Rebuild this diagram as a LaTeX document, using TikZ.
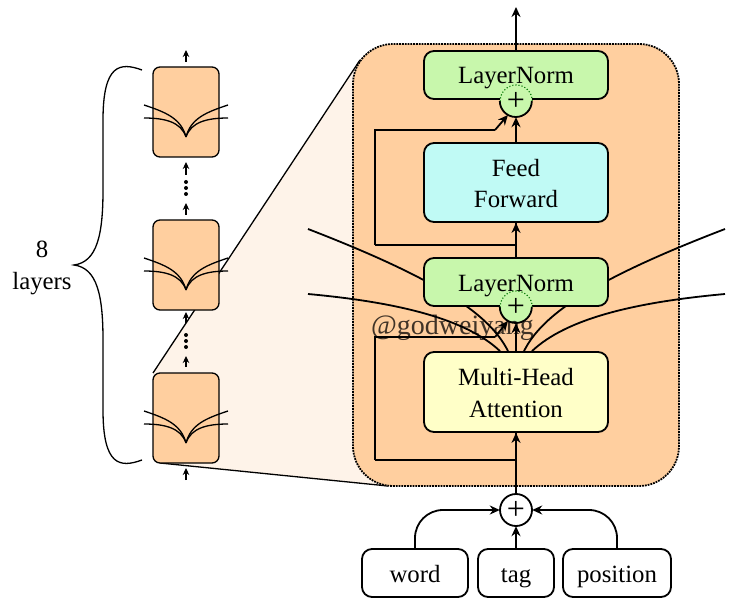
\documentclass[tikz,border=0pt]{standalone}
\usepackage{fontspec}
\setmainfont{Liberation Serif}
\usetikzlibrary{calc, arrows.meta}
\definecolor{blockfill}{HTML}{FFCF9F}
\definecolor{zoomfill}{HTML}{FEF3E9}
\definecolor{normfill}{HTML}{C8F7AC}
\definecolor{feedfill}{HTML}{C0FAF5}
\definecolor{attnfill}{HTML}{FFFFC8}
\newcommand{\topgap}{\rule{0pt}{19.5pt}}
\tikzset{
  label/.style={font=\fontsize{24.8}{31.5}\selectfont, align=center},
  layerbox/.style={label, draw, line width=1.8pt, rounded corners=10pt, minimum width=184pt, inner sep=0pt},
  oneline/.style={text height=18pt, text depth=0pt},
  inputbox/.style={layerbox, oneline, fill=white, minimum height=48pt},
  block/.style={draw, line width=1.3pt, rounded corners=7pt, fill=blockfill, minimum width=66pt, minimum height=90pt, inner sep=0pt},
  sumnode/.style={circle, minimum size=32pt, inner sep=0pt, font=\fontsize{32}{32}\selectfont},
  flow/.style={-{Stealth[length=10pt,width=9pt]}, line width=1.8pt},
  tiny flow/.style={-{Stealth[length=7pt,width=6.5pt]}, line width=1.4pt},
  wire/.style={line width=1.8pt},
  thin wire/.style={line width=1.3pt}
}
\begin{document}
\begin{tikzpicture}[x=1pt,y=-1pt]
  \useasboundingbox (0,0) rectangle (738,609);

  % zoom wedge, drawn first so that the blocks cover it
  \coordinate (wedgeTop) at (360,60);
  \coordinate (wedgeBot) at (388,486);
  \coordinate (blockCnw) at (153,373);
  \coordinate (blockCsw) at (160,463);
  \fill[zoomfill] (blockCnw) -- (wedgeTop) -- (wedgeBot) -- (blockCsw) -- cycle;
  \draw[thin wire] (blockCnw) -- (wedgeTop);
  \draw[thin wire] (blockCsw) -- (wedgeBot);

  \node[draw, densely dotted, line width=1.8pt, rounded corners=40pt, fill=blockfill,
        minimum width=326pt, minimum height=442pt] (layer) at (516,265) {};

  % stack on the left
  \foreach \name/\cy in {blockA/112, blockB/265, blockC/418} {
    \node[block] (\name) at (186,\cy) {};
    \coordinate (\name-l1) at (144,\cy-7);
    \coordinate (\name-l2) at (144,\cy+6);
    \coordinate (\name-r1) at (228,\cy-7);
    \coordinate (\name-r2) at (228,\cy+6);
    \coordinate (\name-m) at (186,\cy+25);
    \draw[thin wire] (\name-l1) .. controls (165,\cy) and (181,\cy+6) .. (\name-m);
    \draw[thin wire] (\name-l2) .. controls (165,\cy+6) and (181,\cy+10) .. (\name-m);
    \draw[thin wire] (\name-r1) .. controls (207,\cy) and (191,\cy+6) .. (\name-m);
    \draw[thin wire] (\name-r2) .. controls (207,\cy+6) and (191,\cy+10) .. (\name-m);
  }
  \foreach \from/\to in {62/50, 175/162, 215/203, 323/312, 367/356, 480/468} {
    \coordinate (tail) at (186,\from);
    \coordinate (tip) at (186,\to);
    \path[tiny flow] (tail) edge (tip);
  }
  \foreach \y in {182, 188, 194, 335, 341, 347} {
    \fill (186,\y) circle (2pt);
  }

  % brace and its label
  \draw[thin wire] (142,70) .. controls (120,62) and (103,64) .. (103,120) -- (103,190)
    .. controls (103,235) and (97,262) .. (74,265)
    .. controls (97,268) and (103,295) .. (103,340) -- (103,410)
    .. controls (103,466) and (120,468) .. (142,460);
  \node[label] (count) at (42,268) {8\\layers};

  % the layer itself
  \node[sumnode] (sumIn) at (516,510) {};
  \node[inputbox, minimum width=106pt] (word) at (415,573) {word};
  \node[inputbox, minimum width=76pt] (tag) at (516,573) {tag};
  \node[inputbox, minimum width=108pt] (position) at (617,573) {position};
  \node[layerbox, fill=attnfill, minimum height=80pt] (attn) at (516,392) {\topgap Multi-Head\\Attention};
  \node[layerbox, fill=feedfill, minimum height=79pt] (feed) at (516,182.5) {\topgap Feed\\Forward};

  \coordinate (outTop) at (516,7);
  \coordinate (skipA) at (375,460);
  \coordinate (skipB) at (375,337);
  \coordinate (skipC) at (495,337);
  \coordinate (skipD) at (375,245);
  \coordinate (skipE) at (375,130);
  \coordinate (skipF) at (495,130);
  \coordinate (headLT) at (308,229);
  \coordinate (headLB) at (308,294);
  \coordinate (headRT) at (725,229);
  \coordinate (headRB) at (725,294);

  \draw[wire] (skipA) -| (attn.south);
  \draw[wire] (skipA) -- (skipB) -- (skipC);
  \draw[wire] (skipD) -| (feed.south);
  \draw[wire] (skipD) -- (skipE) -- (skipF);

  \draw[wire] ($(attn.north)+(-8,0)$) .. controls (490,315) and (440,280) .. (headLT);
  \draw[wire] ($(attn.north)+(-16,0)$) .. controls (465,318) and (395,302) .. (headLB);
  \draw[wire] ($(attn.north)+(8,0)$) .. controls (542,315) and (592,280) .. (headRT);
  \draw[wire] ($(attn.north)+(16,0)$) .. controls (567,318) and (637,302) .. (headRB);

  \node[layerbox, oneline, fill=normfill, minimum height=48pt] (normB) at (516,282) {LayerNorm};
  \node[layerbox, oneline, fill=normfill, minimum height=48pt] (normA) at (516,75) {LayerNorm};
  \node[sumnode, fill=normfill] (sumB) at (516,307) {};
  \node[sumnode, fill=normfill] (sumA) at (516,101) {};
  \foreach \s in {sumA, sumB} {
    \draw[wire] (\s.west) arc (180:360:16pt);
    \draw[line width=1.1pt, dotted, black!55!green] (\s.east) arc (0:180:16pt);
    \node[sumnode] at (\s) {+};
  }
  \draw[wire] (sumIn) circle (16pt);
  \node[sumnode] at (sumIn) {+};

  \path[flow]
    (sumIn.north) edge (attn.south)
    (attn.north) edge (sumB.south)
    (normB.north) edge (feed.south)
    (feed.north) edge (sumA.south)
    (normA.north) edge (outTop)
    (skipC) edge (sumB.240)
    (skipF) edge (sumA.240)
    (tag.north) edge (sumIn.south)
    ;
  \draw[flow, rounded corners=28pt] (word.north) |- (sumIn.west);
  \draw[flow, rounded corners=28pt] (position.north) |- (sumIn.east);

  \node[anchor=base west, inner sep=0pt, opacity=.75, font=\fontsize{28}{28}\selectfont] (mark) at (371,334) {@godweiyang};
\end{tikzpicture}
\end{document}
